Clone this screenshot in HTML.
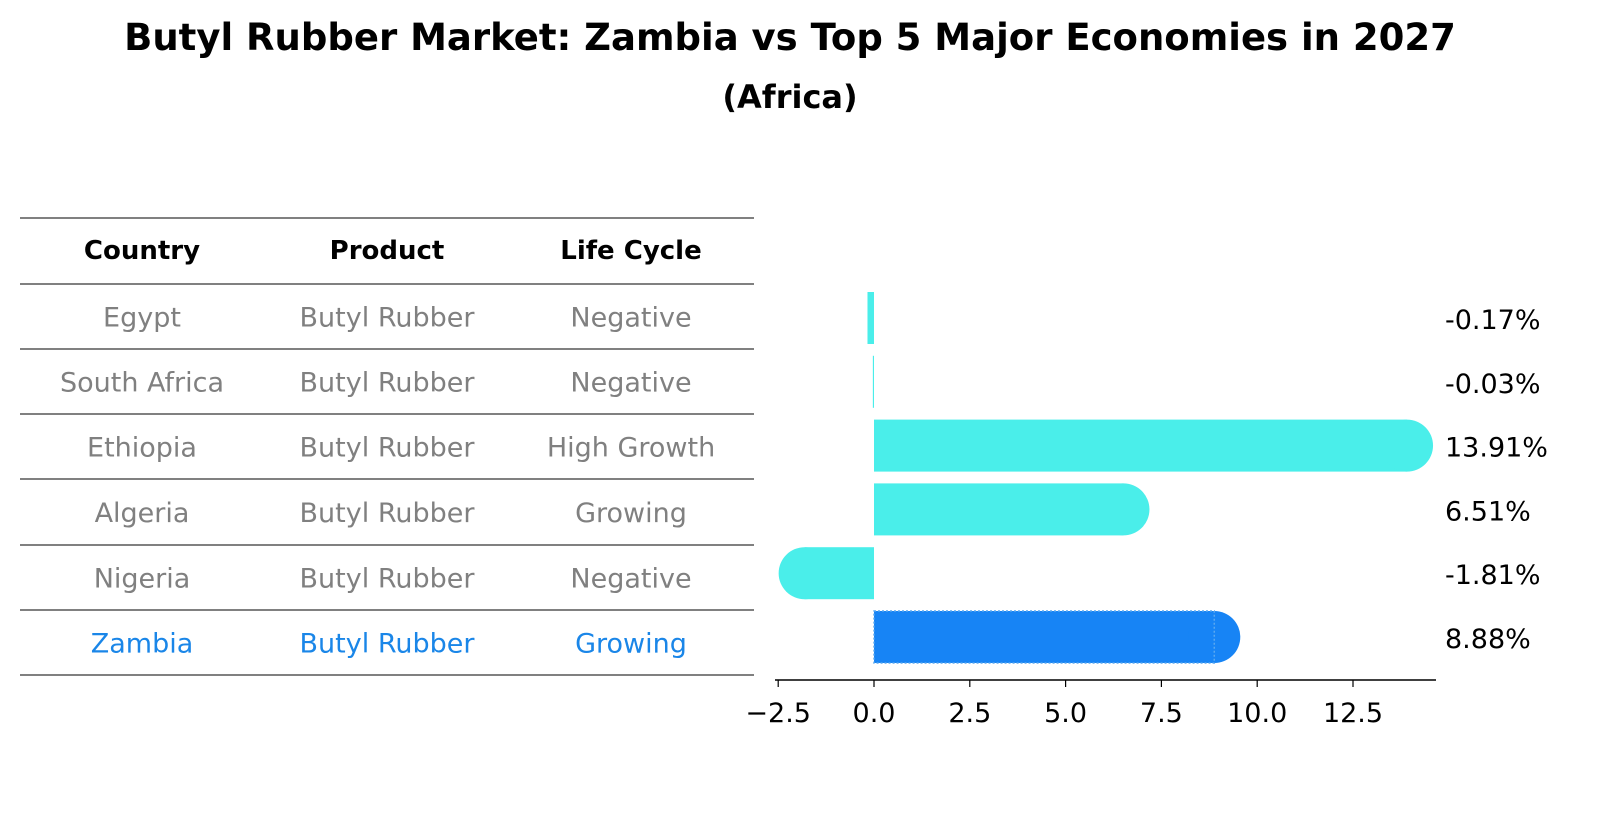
<!DOCTYPE html>
<html><head><meta charset="utf-8"><style>
html,body{margin:0;padding:0;background:#fff;overflow:hidden;font-family:"DejaVu Sans","Liberation Sans",sans-serif}
svg{display:block}
svg text{font-family:"DejaVu Sans","Liberation Sans",sans-serif}
</style></head><body>
<svg id="chart" width="1604" height="823" viewBox="0 0 1604 823" xmlns="http://www.w3.org/2000/svg">
<text x="790" y="50" text-anchor="middle" font-size="37" font-weight="bold">Butyl Rubber Market: Zambia vs Top 5 Major Economies in 2027</text>
<text x="790" y="108" text-anchor="middle" font-size="32" font-weight="bold">(Africa)</text>
<g id="table"></g>
<g id="bars"></g>
</svg>
<script>
const countries=["Egypt","South Africa","Ethiopia","Algeria","Nigeria","Zambia"];
const products=["Butyl Rubber","Butyl Rubber","Butyl Rubber","Butyl Rubber","Butyl Rubber","Butyl Rubber"];
const lifeCycles=["Negative","Negative","High Growth","Growing","Negative","Growing"];
const growth=[-0.17,-0.03,13.91,6.51,-1.81,8.88];
const valueLabels=["-0.17%","-0.03%","13.91%","6.51%","-1.81%","8.88%"];
const ticks=[-2.5,0,2.5,5,7.5,10,12.5];
const tickLabels=["\u22122.5","0.0","2.5","5.0","7.5","10.0","12.5"];
const NS="http://www.w3.org/2000/svg";
const FS=27;
function mk(tag,attrs,parent){const e=document.createElementNS(NS,tag);for(const k in attrs)e.setAttribute(k,attrs[k]);parent.appendChild(e);return e;}
const xS=v=>874+v*38.32;
const rowY=i=>318+i*63.8;
const tbl=document.getElementById('table');
const lines=[218,284,349,414,479,545,610,675];
lines.forEach((y)=>{const l=mk('line',{x1:20,x2:754,y1:y,y2:y,stroke:'#000','stroke-width':1},tbl);

});
const colX=[142,387,631];
["Country","Product","Life Cycle"].forEach((h,j)=>{const t=mk('text',{x:colX[j],y:259,'text-anchor':'middle','font-size':FS-1,'font-weight':'bold'},tbl);t.textContent=h;

});
countries.forEach((c,i)=>{const y=(lines[i+1]+lines[i+2])/2+10;const col=i===5?'#1a86e8':'#808080';
[c,products[i],lifeCycles[i]].forEach((v,j)=>{const t=mk('text',{x:colX[j],y:y,'text-anchor':'middle','font-size':FS,fill:col},tbl);t.textContent=v;

});});
const g=document.getElementById('bars');
const h=52,r=26;
growth.forEach((v,i)=>{const cy=rowY(i);const x0=xS(0),x1=xS(v);const col=i===5?'#1784f5':'#4aeeea';
const grp=mk('g',{},g);


mk('rect',{x:Math.min(x0,x1),y:cy-h/2,width:Math.max(Math.abs(x1-x0),1),height:h,fill:col},grp);
if(Math.abs(v)>1)mk('circle',{cx:x1,cy:cy,r:r,fill:col},grp);
if(i===5)mk('rect',{x:x0,y:cy-h/2,width:x1-x0,height:h,fill:'none',stroke:'#5aa8f0','stroke-width':1.5,'stroke-dasharray':'2 2'},grp);
const t=mk('text',{x:1445,y:cy+11,'font-size':FS},g);t.textContent=valueLabels[i];

});
const ax=mk('line',{x1:775,x2:1436,y1:680,y2:680,stroke:'#000','stroke-width':1.5},g);


ticks.forEach((t,i)=>{mk('line',{x1:xS(t),x2:xS(t),y1:680,y2:687,stroke:'#000','stroke-width':1.2},g);
const tx=mk('text',{x:xS(t),y:722,'text-anchor':'middle','font-size':FS},g);tx.textContent=tickLabels[i];

});
</script>
</body></html>
